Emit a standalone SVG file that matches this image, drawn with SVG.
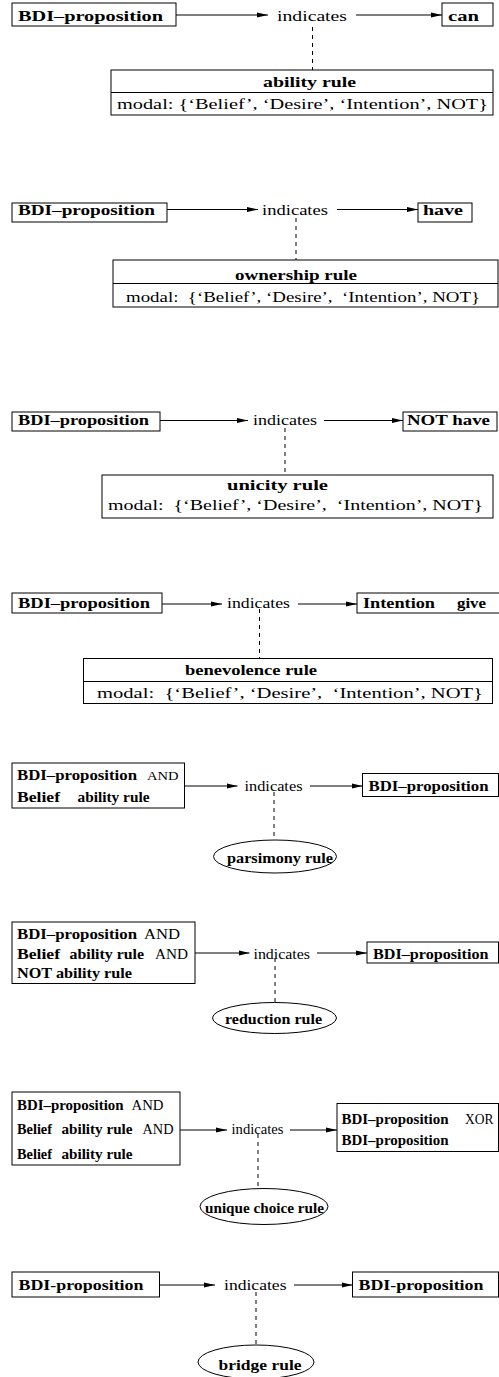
<svg xmlns="http://www.w3.org/2000/svg" width="499" height="1377" viewBox="0 0 499 1377">
  <defs>
    <marker id="arrow" markerUnits="userSpaceOnUse" markerWidth="12" markerHeight="6" refX="11" refY="3" orient="auto">
      <path d="M0,0.5 L11,3 L0,5.5 Z" fill="#000"/>
    </marker>
    <style>
      text { font-family: "Liberation Serif", "Times New Roman", serif; fill: #000; }
      .b { font-weight: bold; font-size: 14px; }
      .r { font-size: 14px; }
      .op { font-size: 11.5px; }
      .box { fill: #fff; stroke: #000; stroke-width: 1; }
      .rule { fill: none; stroke: #000; stroke-width: 1; }
      .flow { fill: none; stroke: #000; stroke-width: 1; marker-end: url(#arrow); }
      .dash { fill: none; stroke: #000; stroke-width: 1; stroke-dasharray: 4 4; }
    </style>
  </defs>

  <rect width="499" height="1377" fill="#fff"/>

  <!-- connectors -->
  <g id="connectors">
    <!-- ability -->
    <path class="flow" d="M176,15 H268"/>
    <path class="flow" d="M356,15 H442"/>
    <path class="dash" d="M312.5,27 V70"/>
    <!-- ownership -->
    <path class="flow" d="M167,209.5 H258"/>
    <path class="flow" d="M337,209.5 H418"/>
    <path class="dash" d="M296,218 V260"/>
    <!-- unicity -->
    <path class="flow" d="M160,420.5 H248"/>
    <path class="flow" d="M324,420.5 H403"/>
    <path class="dash" d="M285,428 V475"/>
    <!-- benevolence -->
    <path class="flow" d="M162,604 H222"/>
    <path class="flow" d="M298,604 H357"/>
    <path class="dash" d="M259.5,609 V658.5"/>
    <!-- parsimony -->
    <path class="flow" d="M184.5,786 H237.5"/>
    <path class="flow" d="M310,786 H362.5"/>
    <path class="dash" d="M274,792 V840"/>
    <!-- reduction -->
    <path class="flow" d="M195,953 H249.5"/>
    <path class="flow" d="M317,953 H367"/>
    <path class="dash" d="M275,958 V1003"/>
    <!-- unique choice -->
    <path class="flow" d="M180,1130 H227"/>
    <path class="flow" d="M290,1130 H337"/>
    <path class="dash" d="M258,1134 V1188.5"/>
    <!-- bridge -->
    <path class="flow" d="M159.5,1285 H215"/>
    <path class="flow" d="M294,1285 H352.5"/>
    <path class="dash" d="M256,1292 V1345"/>
  </g>

  <!-- 1: ability rule -->
  <g id="ability-src">
    <rect class="box" x="12" y="3" width="164" height="23"/>
    <text class="b" x="18" y="20.5" textLength="145" lengthAdjust="spacingAndGlyphs">BDI–proposition</text>
  </g>
  <g id="ability-ind"><text class="r" x="277" y="20.5" textLength="70" lengthAdjust="spacingAndGlyphs">indicates</text></g>
  <g id="ability-dst">
    <rect class="box" x="442" y="3" width="51" height="23"/>
    <text class="b" x="448" y="20.5" textLength="31" lengthAdjust="spacingAndGlyphs">can</text>
  </g>
  <g id="ability-rule">
    <rect class="box" x="111" y="70" width="382" height="45"/>
    <line class="rule" x1="111" y1="92.5" x2="493" y2="92.5"/>
    <text class="b" x="263" y="87" textLength="93" lengthAdjust="spacingAndGlyphs">ability rule</text>
    <text class="r" x="117" y="109" textLength="371" lengthAdjust="spacingAndGlyphs">modal: {‘Belief’, ‘Desire’, ‘Intention’, NOT}</text>
  </g>

  <!-- 2: ownership rule -->
  <g id="ownership-src">
    <rect class="box" x="12" y="203" width="155" height="19"/>
    <text class="b" x="18" y="214.5" textLength="137" lengthAdjust="spacingAndGlyphs">BDI–proposition</text>
  </g>
  <g id="ownership-ind"><text class="r" x="262" y="214.5" textLength="66" lengthAdjust="spacingAndGlyphs">indicates</text></g>
  <g id="ownership-dst">
    <rect class="box" x="418" y="203" width="54" height="19"/>
    <text class="b" x="423" y="214.5" textLength="40" lengthAdjust="spacingAndGlyphs">have</text>
  </g>
  <g id="ownership-rule">
    <rect class="box" x="113" y="260" width="385" height="47"/>
    <line class="rule" x1="113" y1="283.5" x2="498" y2="283.5"/>
    <text class="b" x="235" y="280" textLength="122" lengthAdjust="spacingAndGlyphs">ownership rule</text>
    <text class="r" x="126" y="301.5" textLength="354" lengthAdjust="spacingAndGlyphs" xml:space="preserve">modal:  {‘Belief’, ‘Desire’,  ‘Intention’, NOT}</text>
  </g>

  <!-- 3: unicity rule -->
  <g id="unicity-src">
    <rect class="box" x="12" y="412" width="148" height="19"/>
    <text class="b" x="18" y="425" textLength="131" lengthAdjust="spacingAndGlyphs">BDI–proposition</text>
  </g>
  <g id="unicity-ind"><text class="r" x="253" y="425" textLength="64" lengthAdjust="spacingAndGlyphs">indicates</text></g>
  <g id="unicity-dst">
    <rect class="box" x="403" y="412" width="94" height="19"/>
    <text class="b" x="407" y="425" textLength="83" lengthAdjust="spacingAndGlyphs">NOT have</text>
  </g>
  <g id="unicity-rule">
    <rect class="box" x="102" y="475" width="391" height="43"/>
    <text class="b" x="227" y="489.5" textLength="101" lengthAdjust="spacingAndGlyphs">unicity rule</text>
    <text class="r" x="108" y="509.5" textLength="375" lengthAdjust="spacingAndGlyphs" xml:space="preserve">modal:  {‘Belief’, ‘Desire’,  ‘Intention’, NOT}</text>
  </g>

  <!-- 4: benevolence rule -->
  <g id="benevolence-src">
    <rect class="box" x="12" y="593" width="150" height="20"/>
    <text class="b" x="18" y="608" textLength="132" lengthAdjust="spacingAndGlyphs">BDI–proposition</text>
  </g>
  <g id="benevolence-ind"><text class="r" x="227" y="608" textLength="63" lengthAdjust="spacingAndGlyphs">indicates</text></g>
  <g id="benevolence-dst">
    <rect class="box" x="357" y="593" width="150" height="20"/>
    <text class="b" y="608"><tspan x="363" textLength="72" lengthAdjust="spacingAndGlyphs">Intention</tspan> <tspan x="457" textLength="29" lengthAdjust="spacingAndGlyphs">give</tspan></text>
  </g>
  <g id="benevolence-rule">
    <rect class="box" x="83.5" y="658.5" width="409" height="45"/>
    <line class="rule" x1="83.5" y1="681.5" x2="492.5" y2="681.5"/>
    <text class="b" x="185" y="675" textLength="132" lengthAdjust="spacingAndGlyphs">benevolence rule</text>
    <text class="r" x="97" y="698" textLength="386" lengthAdjust="spacingAndGlyphs" xml:space="preserve">modal:  {‘Belief’, ‘Desire’,  ‘Intention’, NOT}</text>
  </g>

  <!-- 5: parsimony rule -->
  <g id="parsimony-src">
    <rect class="box" x="12" y="763" width="172.5" height="45"/>
    <text y="780"><tspan class="b" x="17" textLength="120" lengthAdjust="spacingAndGlyphs">BDI–proposition</tspan> <tspan class="op" x="147" textLength="31.5" lengthAdjust="spacingAndGlyphs">AND</tspan></text>
    <text class="b" y="801.5"><tspan x="17" textLength="43" lengthAdjust="spacingAndGlyphs">Belief</tspan> <tspan x="77.5" textLength="72" lengthAdjust="spacingAndGlyphs">ability rule</tspan></text>
  </g>
  <g id="parsimony-ind"><text class="r" x="244.5" y="790.5" textLength="58" lengthAdjust="spacingAndGlyphs">indicates</text></g>
  <g id="parsimony-dst">
    <rect class="box" x="362.5" y="773.5" width="136" height="23"/>
    <text class="b" x="368.5" y="790.5" textLength="120" lengthAdjust="spacingAndGlyphs">BDI–proposition</text>
  </g>
  <g id="parsimony-rule">
    <ellipse class="box" cx="275" cy="856.5" rx="61.5" ry="16.5"/>
    <text class="b" x="227" y="862.5" textLength="106" lengthAdjust="spacingAndGlyphs">parsimony rule</text>
  </g>

  <!-- 6: reduction rule -->
  <g id="reduction-src">
    <rect class="box" x="12" y="922" width="183" height="61.5"/>
    <text y="938.5"><tspan class="b" x="17" textLength="120" lengthAdjust="spacingAndGlyphs">BDI–proposition</tspan> <tspan class="r" x="144" textLength="36" lengthAdjust="spacingAndGlyphs">AND</tspan></text>
    <text y="958.5"><tspan class="b" x="17" textLength="43" lengthAdjust="spacingAndGlyphs">Belief</tspan> <tspan class="b" x="69.5" textLength="74.5" lengthAdjust="spacingAndGlyphs">ability rule</tspan> <tspan class="r" x="155" textLength="33" lengthAdjust="spacingAndGlyphs">AND</tspan></text>
    <text class="b" x="17" y="977.5" textLength="115" lengthAdjust="spacingAndGlyphs">NOT ability rule</text>
  </g>
  <g id="reduction-ind"><text class="r" x="253.5" y="958.5" textLength="56.5" lengthAdjust="spacingAndGlyphs">indicates</text></g>
  <g id="reduction-dst">
    <rect class="box" x="367" y="942" width="131.5" height="21"/>
    <text class="b" x="373" y="958.5" textLength="115.5" lengthAdjust="spacingAndGlyphs">BDI–proposition</text>
  </g>
  <g id="reduction-rule">
    <ellipse class="box" cx="274.5" cy="1018" rx="62" ry="15.5"/>
    <text class="b" x="225" y="1023.5" textLength="97" lengthAdjust="spacingAndGlyphs">reduction rule</text>
  </g>

  <!-- 7: unique choice rule -->
  <g id="choice-src">
    <rect class="box" x="12" y="1092" width="168" height="73"/>
    <text y="1109.5"><tspan class="b" x="17" textLength="106.5" lengthAdjust="spacingAndGlyphs">BDI–proposition</tspan> <tspan class="r" x="131.5" textLength="32" lengthAdjust="spacingAndGlyphs">AND</tspan></text>
    <text y="1133.5"><tspan class="b" x="17" textLength="35" lengthAdjust="spacingAndGlyphs">Belief</tspan> <tspan class="b" x="61.5" textLength="71" lengthAdjust="spacingAndGlyphs">ability rule</tspan> <tspan class="r" x="142.5" textLength="31" lengthAdjust="spacingAndGlyphs">AND</tspan></text>
    <text class="b" y="1158.5"><tspan x="17" textLength="35" lengthAdjust="spacingAndGlyphs">Belief</tspan> <tspan x="61.5" textLength="71" lengthAdjust="spacingAndGlyphs">ability rule</tspan></text>
  </g>
  <g id="choice-ind"><text class="r" x="231.5" y="1133.5" textLength="52" lengthAdjust="spacingAndGlyphs">indicates</text></g>
  <g id="choice-dst">
    <rect class="box" x="337" y="1103.5" width="161.5" height="48"/>
    <text y="1123.5"><tspan class="b" x="341.5" textLength="107" lengthAdjust="spacingAndGlyphs">BDI–proposition</tspan> <tspan class="r" x="465" textLength="28.5" lengthAdjust="spacingAndGlyphs">XOR</tspan></text>
    <text class="b" x="341.5" y="1145" textLength="107" lengthAdjust="spacingAndGlyphs">BDI–proposition</text>
  </g>
  <g id="choice-rule">
    <ellipse class="box" cx="264" cy="1206.5" rx="64" ry="18"/>
    <text class="b" x="205" y="1212.5" textLength="119" lengthAdjust="spacingAndGlyphs">unique choice rule</text>
  </g>

  <!-- 8: bridge rule -->
  <g id="bridge-src">
    <rect class="box" x="12" y="1272" width="147.5" height="25"/>
    <text class="b" x="18.5" y="1290" textLength="125" lengthAdjust="spacingAndGlyphs" style="font-size:15px">BDI-proposition</text>
  </g>
  <g id="bridge-ind"><text class="r" x="224" y="1290" textLength="62.5" lengthAdjust="spacingAndGlyphs" style="font-size:15px">indicates</text></g>
  <g id="bridge-dst">
    <rect class="box" x="352.5" y="1272" width="146" height="25"/>
    <text class="b" x="358.5" y="1290" textLength="125" lengthAdjust="spacingAndGlyphs" style="font-size:15px">BDI-proposition</text>
  </g>
  <g id="bridge-rule">
    <ellipse class="box" cx="256" cy="1362" rx="58" ry="17"/>
    <text class="b" x="218.5" y="1370" textLength="83" lengthAdjust="spacingAndGlyphs" style="font-size:15px">bridge rule</text>
  </g>
</svg>
